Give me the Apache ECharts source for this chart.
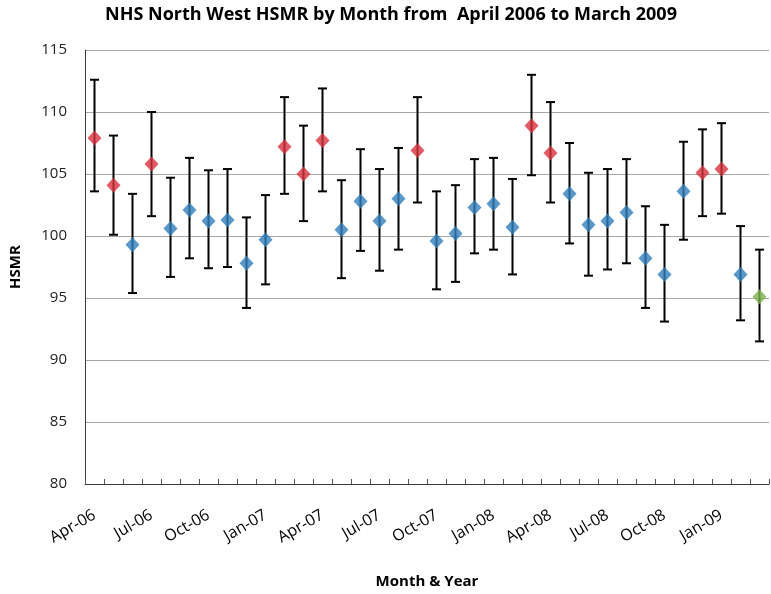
<!DOCTYPE html>
<html>
<head>
<meta charset="utf-8">
<script src="https://cdn.jsdelivr.net/npm/echarts@6/dist/echarts.min.js"></script>
<style>
html,body{margin:0;padding:0;background:#fff;}
#chart{width:771px;height:594px;}
</style>
</head>
<body>
<div id="chart"></div>
<script>
const months = ['Apr-06','May-06','Jun-06','Jul-06','Aug-06','Sep-06','Oct-06','Nov-06','Dec-06','Jan-07','Feb-07','Mar-07',
  'Apr-07','May-07','Jun-07','Jul-07','Aug-07','Sep-07','Oct-07','Nov-07','Dec-07','Jan-08','Feb-08','Mar-08',
  'Apr-08','May-08','Jun-08','Jul-08','Aug-08','Sep-08','Oct-08','Nov-08','Dec-08','Jan-09','Feb-09','Mar-09'];
const hsmr  = [107.9,104.1,99.3,105.8,100.6,102.1,101.2,101.3,97.8,99.7,107.2,105.0,
  107.7,100.5,102.8,101.2,103.0,106.9,99.6,100.2,102.3,102.6,100.7,108.9,
  106.7,103.4,100.9,101.2,101.9,98.2,96.9,103.6,105.1,105.4,96.9,95.1];
const upper = [112.6,108.1,103.4,110.0,104.7,106.3,105.3,105.4,101.5,103.3,111.2,108.9,
  111.9,104.5,107.0,105.4,107.1,111.2,103.6,104.1,106.2,106.3,104.6,113.0,
  110.8,107.5,105.1,105.4,106.2,102.4,100.9,107.6,108.6,109.1,100.8,98.9];
const lower = [103.6,100.1,95.4,101.6,96.7,98.2,97.4,97.5,94.2,96.1,103.4,101.2,
  103.6,96.6,98.8,97.2,98.9,102.7,95.7,96.3,98.6,98.9,96.9,104.9,
  102.7,99.4,96.8,97.3,97.8,94.2,93.1,99.7,101.6,101.8,93.2,91.5];
// 'H' = significantly high, 'N' = not significant, 'L' = significantly low
const status = ['H','H','N','H','N','N','N','N','N','N','H','H',
  'H','N','N','N','N','H','N','N','N','N','N','H',
  'H','N','N','N','N','N','N','N','H','H','N','L'];
const yTicks = [80,85,90,95,100,105,110,115];

const statusColor = {H:'#d8323d', N:'#2f7ebb', L:'#79b04c'};

const chart = echarts.init(document.getElementById('chart'), null, {renderer:'canvas'});
const font = '"Open Sans", "Noto Sans", sans-serif';

const errData = months.map((m,i)=>[i, lower[i], upper[i]]);
const ptData = months.map((m,i)=>({value:[i, hsmr[i]], itemStyle:{color:statusColor[status[i]]}}));

chart.setOption({
  animation:false,
  backgroundColor:'#fff',
  title:{
    text:'NHS North West HSMR by Month from  April 2006 to March 2009',
    left:386, textAlign:'center', top:1,
    textStyle:{fontFamily:font, fontSize:18, fontWeight:'bold', color:'#000'}
  },
  grid:{left:83, right:2, top:50, bottom:110, containLabel:false},
  xAxis:{
    type:'category',
    data:months,
    boundaryGap:true,
    name:'Month & Year',
    nameLocation:'middle',
    nameGap:90,
    nameTextStyle:{fontFamily:font, fontSize:15, fontWeight:'bold', color:'#000'},
    axisLine:{lineStyle:{color:'#3a3a3a', width:1}},
    axisTick:{show:true, inside:true, interval:0, length:5, lineStyle:{color:'#555'}},
    axisLabel:{interval:2, rotate:30, margin:30, fontFamily:font, fontSize:16, color:'#000'},
    splitLine:{show:false}
  },
  yAxis:{
    type:'value',
    min:yTicks[0], max:yTicks[yTicks.length-1], interval:5,
    name:'HSMR',
    nameLocation:'middle',
    nameGap:62,
    nameTextStyle:{fontFamily:font, fontSize:15, fontWeight:'bold', color:'#000'},
    axisLine:{show:true, lineStyle:{color:'#3a3a3a', width:1}},
    axisTick:{show:false},
    axisLabel:{margin:18, fontFamily:font, fontSize:15, color:'#222'},
    splitLine:{show:true, lineStyle:{color:'#a6a6a6', width:1.2}}
  },
  series:[
    {
      type:'custom',
      data:errData,
      z:2,
      renderItem:function(params, api){
        const x = api.value(0);
        const lo = api.coord([x, api.value(1)]);
        const hi = api.coord([x, api.value(2)]);
        const hw = 4.5;
        const st = {stroke:'#000', lineWidth:2};
        return {type:'group', children:[
          {type:'line', shape:{x1:lo[0], y1:lo[1], x2:hi[0], y2:hi[1]}, style:st},
          {type:'line', shape:{x1:lo[0]-hw, y1:lo[1], x2:lo[0]+hw, y2:lo[1]}, style:st},
          {type:'line', shape:{x1:hi[0]-hw, y1:hi[1], x2:hi[0]+hw, y2:hi[1]}, style:st}
        ]};
      }
    },
    {
      type:'scatter',
      data:ptData,
      symbol:'diamond',
      symbolSize:[14,15],
      z:5
    }
  ]
});
</script>
</body>
</html>
